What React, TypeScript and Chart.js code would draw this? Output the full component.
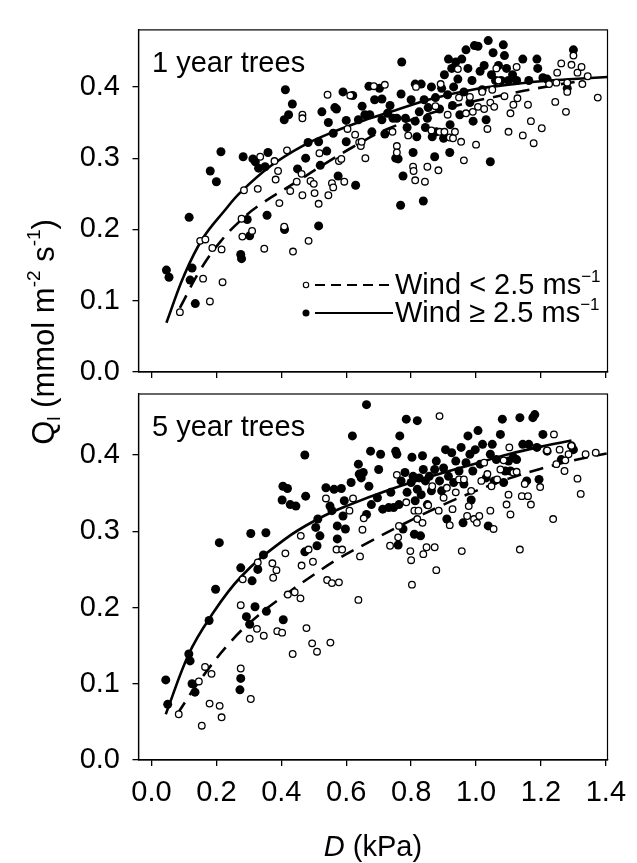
import React, { useEffect, useRef } from 'react';
import { Chart, registerables } from 'chart.js';

Chart.register(...registerables);

const FONT = '"Liberation Sans", Arial, Helvetica, sans-serif';

// ---------- axis ticks / labels ----------
const xTickValues = [0, 0.2, 0.4, 0.6, 0.8, 1.0, 1.2, 1.4];
const yTickValues = [0, 0.1, 0.2, 0.3, 0.4];
const panelTitles = ['1 year trees', '5 year trees'];
const seriesLabels = ['Wind < 2.5 ms', 'Wind \u2265 2.5 ms'];

// ---------- 1 year trees ----------
const yr1Calm: [number, number][] = [
  [0.0875, 0.084], [0.15, 0.184], [0.166, 0.186], [0.159, 0.131], [0.18, 0.099], [0.1875, 0.174],
  [0.216, 0.172], [0.219, 0.126], [0.2775, 0.215], [0.28, 0.19], [0.31, 0.198], [0.285, 0.255],
  [0.3275, 0.257], [0.335, 0.302], [0.3475, 0.173], [0.379, 0.296], [0.3825, 0.27], [0.39, 0.282],
  [0.394, 0.237], [0.409, 0.204], [0.4175, 0.311], [0.4275, 0.254], [0.436, 0.169], [0.4475, 0.267],
  [0.4625, 0.278], [0.465, 0.248], [0.465, 0.361], [0.465, 0.356], [0.484, 0.184], [0.49, 0.268],
  [0.5, 0.264], [0.5025, 0.251], [0.515, 0.236], [0.5175, 0.307], [0.5425, 0.389], [0.545, 0.248],
  [0.556, 0.265], [0.56, 0.259], [0.5775, 0.296], [0.585, 0.299], [0.594, 0.267], [0.604, 0.341],
  [0.6125, 0.388], [0.6275, 0.333], [0.64, 0.322], [0.645, 0.317], [0.6475, 0.323], [0.659, 0.3],
  [0.685, 0.401], [0.719, 0.403], [0.7425, 0.337], [0.756, 0.317], [0.756, 0.308], [0.791, 0.332],
  [0.806, 0.288], [0.8075, 0.282], [0.8125, 0.269], [0.815, 0.4], [0.8425, 0.267], [0.85, 0.288],
  [0.8625, 0.339], [0.875, 0.373], [0.884, 0.283], [0.8875, 0.337], [0.891, 0.404], [0.9025, 0.337],
  [0.9125, 0.361], [0.919, 0.329], [0.929, 0.328], [0.935, 0.337], [0.944, 0.425], [0.9475, 0.385],
  [0.954, 0.323], [0.9625, 0.297], [0.969, 0.363], [0.981, 0.386], [0.99, 0.365], [1.0, 0.319],
  [1.006, 0.372], [1.019, 0.393], [1.025, 0.369], [1.035, 0.341], [1.044, 0.378], [1.05, 0.396],
  [1.056, 0.372], [1.0625, 0.426], [1.069, 0.409], [1.0875, 0.387], [1.1, 0.337], [1.106, 0.363],
  [1.115, 0.375], [1.125, 0.428], [1.1275, 0.384], [1.144, 0.332], [1.16, 0.375], [1.169, 0.352],
  [1.1775, 0.321], [1.2025, 0.342], [1.225, 0.404], [1.244, 0.379], [1.25, 0.42], [1.2625, 0.433],
  [1.277, 0.365], [1.281, 0.393], [1.294, 0.431], [1.3, 0.444], [1.3125, 0.42], [1.325, 0.428],
  [1.3275, 0.404], [1.344, 0.415], [1.375, 0.385], [1.281, 0.406], [1.2475, 0.406],
];

const yr1Windy: [number, number][] = [
  [0.046, 0.143], [0.054, 0.133], [0.116, 0.217], [0.125, 0.146], [0.119, 0.129], [0.135, 0.096],
  [0.181, 0.282], [0.2, 0.267], [0.214, 0.309], [0.275, 0.165], [0.2775, 0.159], [0.2825, 0.302],
  [0.295, 0.214], [0.3025, 0.191], [0.3125, 0.299], [0.32, 0.295], [0.33, 0.286], [0.35, 0.288],
  [0.356, 0.22], [0.359, 0.308], [0.41, 0.2], [0.4125, 0.396], [0.4225, 0.361], [0.434, 0.376],
  [0.409, 0.354], [0.45, 0.285], [0.475, 0.3], [0.4825, 0.322], [0.515, 0.205], [0.515, 0.323],
  [0.52, 0.29], [0.525, 0.365], [0.54, 0.31], [0.545, 0.35], [0.56, 0.335], [0.565, 0.371],
  [0.57, 0.369], [0.575, 0.275], [0.59, 0.393], [0.6, 0.323], [0.6, 0.353], [0.62, 0.388],
  [0.629, 0.262], [0.6375, 0.354], [0.649, 0.373], [0.6575, 0.361], [0.67, 0.401], [0.6725, 0.361],
  [0.679, 0.337], [0.6875, 0.382], [0.7025, 0.398], [0.71, 0.383], [0.71, 0.354], [0.719, 0.334],
  [0.7275, 0.363], [0.735, 0.374], [0.744, 0.356], [0.7525, 0.3], [0.756, 0.356], [0.76, 0.299],
  [0.7675, 0.234], [0.769, 0.39], [0.771, 0.435], [0.775, 0.275], [0.7825, 0.356], [0.7875, 0.343],
  [0.8, 0.382], [0.806, 0.308], [0.8125, 0.404], [0.8125, 0.352], [0.8175, 0.33], [0.825, 0.365],
  [0.831, 0.404], [0.8375, 0.24], [0.84, 0.382], [0.844, 0.343], [0.85, 0.356], [0.8525, 0.371],
  [0.8625, 0.4], [0.865, 0.33], [0.8725, 0.302], [0.875, 0.385], [0.8775, 0.337], [0.8875, 0.369],
  [0.894, 0.398], [0.9, 0.328], [0.9025, 0.417], [0.9125, 0.389], [0.915, 0.439], [0.919, 0.308],
  [0.92, 0.347], [0.925, 0.426], [0.9275, 0.374], [0.931, 0.4], [0.9375, 0.435], [0.944, 0.411],
  [0.95, 0.361], [0.956, 0.439], [0.9625, 0.393], [0.969, 0.452], [0.975, 0.426], [0.981, 0.378],
  [0.9875, 0.409], [0.991, 0.352], [0.995, 0.458], [1.006, 0.457], [1.0125, 0.422], [1.019, 0.396],
  [1.025, 0.43], [1.031, 0.354], [1.0375, 0.465], [1.044, 0.295], [1.0475, 0.417], [1.0525, 0.448],
  [1.06, 0.409], [1.069, 0.43], [1.0775, 0.409], [1.084, 0.459], [1.0875, 0.444], [1.094, 0.426],
  [1.1, 0.409], [1.1125, 0.417], [1.125, 0.409], [1.144, 0.439], [1.1625, 0.409], [1.1875, 0.439],
  [1.19, 0.426], [1.206, 0.413], [1.219, 0.411], [1.281, 0.398], [1.3, 0.452],
];

const yr1CalmFit: [number, number][] = [
  [0.0875, 0.09], [0.15, 0.143], [0.2125, 0.183], [0.285, 0.217], [0.345, 0.238], [0.444, 0.266],
  [0.52, 0.288], [0.618, 0.315], [0.727, 0.341], [0.912, 0.37], [1.098, 0.39], [1.25, 0.403], [1.32, 0.408],
];

const yr1WindyFit: [number, number][] = [
  [0.046, 0.069], [0.1, 0.135], [0.156, 0.186], [0.228, 0.228], [0.274, 0.252], [0.367, 0.289],
  [0.469, 0.318], [0.561, 0.337], [0.654, 0.353], [0.75, 0.367], [0.87, 0.384], [1.0, 0.397],
  [1.1, 0.403], [1.2, 0.408], [1.3, 0.411], [1.405, 0.414],
];

// ---------- 5 year trees ----------
const yr5Calm: [number, number][] = [
  [0.084, 0.06], [0.146, 0.103], [0.155, 0.045], [0.165, 0.122], [0.179, 0.074], [0.185, 0.113],
  [0.21, 0.071], [0.216, 0.056], [0.275, 0.203], [0.275, 0.12], [0.281, 0.237], [0.3025, 0.159],
  [0.306, 0.08], [0.325, 0.172], [0.3275, 0.259], [0.346, 0.163], [0.3725, 0.258], [0.375, 0.239],
  [0.385, 0.249], [0.3875, 0.169], [0.4025, 0.167], [0.4125, 0.271], [0.42, 0.217], [0.435, 0.139],
  [0.4412, 0.22], [0.459, 0.212], [0.46, 0.294], [0.4625, 0.255], [0.4775, 0.173], [0.484, 0.276],
  [0.495, 0.153], [0.4975, 0.26], [0.51, 0.142], [0.5375, 0.343], [0.5412, 0.236], [0.5512, 0.154],
  [0.556, 0.232], [0.57, 0.276], [0.5775, 0.233], [0.5875, 0.276], [0.61, 0.327], [0.621, 0.343],
  [0.6375, 0.21], [0.6425, 0.267], [0.65, 0.302], [0.654, 0.317], [0.735, 0.281], [0.756, 0.374],
  [0.76, 0.292], [0.7625, 0.307], [0.785, 0.338], [0.7975, 0.274], [0.8, 0.262], [0.8025, 0.23],
  [0.81, 0.327], [0.819, 0.316], [0.8225, 0.327], [0.835, 0.311], [0.8375, 0.27], [0.8475, 0.279],
  [0.8525, 0.334], [0.865, 0.359], [0.8725, 0.279], [0.8775, 0.249], [0.885, 0.327], [0.8875, 0.451],
  [0.9, 0.344], [0.91, 0.357], [0.919, 0.308], [0.9275, 0.329], [0.9375, 0.351], [0.9475, 0.368],
  [0.956, 0.274], [0.9625, 0.368], [0.9725, 0.32], [0.9775, 0.333], [0.985, 0.353], [0.9938, 0.316],
  [1.0025, 0.311], [1.01, 0.32], [1.0162, 0.366], [1.025, 0.39], [1.035, 0.375], [1.044, 0.327],
  [1.0475, 0.359], [1.054, 0.303], [1.065, 0.368], [1.075, 0.381], [1.085, 0.393], [1.094, 0.335],
  [1.1, 0.348], [1.1025, 0.41], [1.106, 0.322], [1.115, 0.377], [1.125, 0.378], [1.135, 0.276],
  [1.141, 0.346], [1.15, 0.362], [1.16, 0.346], [1.169, 0.335], [1.1975, 0.358], [1.219, 0.406],
  [1.2375, 0.316], [1.24, 0.427], [1.2475, 0.388], [1.2575, 0.407], [1.2725, 0.379], [1.275, 0.393],
  [1.294, 0.412], [1.3125, 0.369], [1.3225, 0.349], [1.3375, 0.401], [1.3688, 0.403], [1.285, 0.401],
];

const yr5Windy: [number, number][] = [
  [0.044, 0.105], [0.05, 0.073], [0.115, 0.139], [0.119, 0.13], [0.125, 0.1], [0.134, 0.089],
  [0.1775, 0.183], [0.1975, 0.224], [0.209, 0.285], [0.275, 0.252], [0.275, 0.107], [0.2725, 0.092],
  [0.2925, 0.188], [0.3025, 0.178], [0.306, 0.297], [0.31, 0.235], [0.319, 0.201], [0.3275, 0.25],
  [0.345, 0.269], [0.3525, 0.298], [0.354, 0.195], [0.406, 0.184], [0.405, 0.359], [0.419, 0.356],
  [0.4025, 0.341], [0.4275, 0.335], [0.445, 0.333], [0.4725, 0.4], [0.475, 0.346], [0.4725, 0.273],
  [0.506, 0.305], [0.51, 0.281], [0.5125, 0.316], [0.519, 0.294], [0.5375, 0.357], [0.55, 0.333],
  [0.556, 0.327], [0.5625, 0.355], [0.5725, 0.29], [0.5725, 0.307], [0.585, 0.356], [0.59, 0.32],
  [0.5975, 0.303], [0.594, 0.34], [0.619, 0.425], [0.615, 0.364], [0.6375, 0.388], [0.64, 0.375],
  [0.6462, 0.37], [0.6525, 0.377], [0.6625, 0.466], [0.6625, 0.322], [0.67, 0.359], [0.675, 0.405],
  [0.6775, 0.335], [0.6962, 0.344], [0.7, 0.381], [0.706, 0.401], [0.7125, 0.329], [0.731, 0.331],
  [0.7375, 0.351], [0.746, 0.331], [0.7525, 0.405], [0.756, 0.401], [0.76, 0.282], [0.7625, 0.335],
  [0.765, 0.425], [0.769, 0.366], [0.775, 0.303], [0.781, 0.377], [0.785, 0.447], [0.7875, 0.351],
  [0.8, 0.364], [0.8025, 0.397], [0.806, 0.372], [0.81, 0.296], [0.8125, 0.34], [0.819, 0.445],
  [0.819, 0.355], [0.825, 0.37], [0.829, 0.294], [0.831, 0.348], [0.835, 0.399], [0.8375, 0.381],
  [0.844, 0.366], [0.85, 0.335], [0.856, 0.372], [0.8625, 0.353], [0.8725, 0.381], [0.8775, 0.392],
  [0.8875, 0.366], [0.894, 0.353], [0.9, 0.383], [0.906, 0.407], [0.91, 0.316], [0.915, 0.372],
  [0.925, 0.403], [0.931, 0.364], [0.9375, 0.392], [0.9475, 0.379], [0.954, 0.41], [0.96, 0.311],
  [0.9625, 0.362], [0.969, 0.39], [0.975, 0.425], [0.981, 0.401], [0.985, 0.341], [0.99, 0.379],
  [0.9975, 0.407], [1.006, 0.432], [1.0125, 0.388], [1.02, 0.414], [1.031, 0.37], [1.0375, 0.307],
  [1.044, 0.401], [1.05, 0.414], [1.056, 0.366], [1.0625, 0.394], [1.075, 0.427], [1.081, 0.447],
  [1.085, 0.364], [1.09, 0.379], [1.1, 0.392], [1.106, 0.379], [1.115, 0.397], [1.125, 0.394],
  [1.135, 0.449], [1.144, 0.414], [1.156, 0.366], [1.1625, 0.414], [1.175, 0.449], [1.181, 0.453],
  [1.1875, 0.41], [1.194, 0.368], [1.206, 0.427], [1.219, 0.405], [1.2625, 0.394], [1.294, 0.412],
  [1.3, 0.407],
];

const yr5CalmFit: [number, number][] = [
  [0.079, 0.06], [0.15, 0.105], [0.25, 0.158], [0.33, 0.19], [0.42, 0.219], [0.5, 0.243],
  [0.58, 0.265], [0.68, 0.288], [0.76, 0.306], [0.9, 0.335], [1.0, 0.353], [1.1, 0.369],
  [1.2, 0.382], [1.3, 0.393], [1.4025, 0.402],
];

const yr5WindyFit: [number, number][] = [
  [0.044, 0.06], [0.115, 0.139], [0.1775, 0.185], [0.275, 0.24], [0.4125, 0.29], [0.5125, 0.316],
  [0.6, 0.333], [0.7375, 0.355], [0.87, 0.373], [1.0, 0.389], [1.1, 0.401], [1.2, 0.411], [1.294, 0.419],
];

const panels = [
  { calm: yr1Calm, windy: yr1Windy, calmFit: yr1CalmFit, windyFit: yr1WindyFit },
  { calm: yr5Calm, windy: yr5Windy, calmFit: yr5CalmFit, windyFit: yr5WindyFit },
];

// ---------- drawing helpers ----------
type Run = { t: string; size: number; rise?: number; italic?: boolean };

function fontOf(r: Run) {
  return `${r.italic ? 'italic ' : ''}${r.size}px ${FONT}`;
}

function drawRuns(
  ctx: CanvasRenderingContext2D,
  runs: Run[],
  x: number,
  y: number,
  align: 'left' | 'center',
  rotate = 0,
) {
  ctx.save();
  ctx.translate(x, y);
  if (rotate) ctx.rotate(rotate);
  ctx.fillStyle = '#000';
  ctx.textBaseline = 'alphabetic';
  ctx.textAlign = 'left';
  const widths = runs.map((r) => {
    ctx.font = fontOf(r);
    return ctx.measureText(r.t).width;
  });
  const total = widths.reduce((a, b) => a + b, 0);
  let cx = align === 'center' ? -total / 2 : 0;
  runs.forEach((r, i) => {
    ctx.font = fontOf(r);
    ctx.fillText(r.t, cx, -(r.rise || 0));
    cx += widths[i];
  });
  ctx.restore();
}

const TXT = 29;

function makeConfig(panel: number): any {
  const isTop = panel === 0;
  const d = panels[panel];
  const toPts = (a: [number, number][]) => a.map(([x, y]) => ({ x, y }));

  const decor = {
    id: 'decor' + panel,
    afterDraw(chart: any) {
      const ctx: CanvasRenderingContext2D = chart.ctx;
      const a = chart.chartArea;
      ctx.save();
      ctx.strokeStyle = '#000';
      ctx.lineWidth = 1.2;
      ctx.strokeRect(a.left, a.top, a.right - a.left, a.bottom - a.top);
      ctx.restore();

      // panel label
      drawRuns(ctx, [{ t: panelTitles[panel], size: TXT }], a.left + 13.5, a.top + 42, 'left');

      if (isTop) {
        // legend
        const lx0 = 315, lx1 = 393, mx = 306, tx = 395;
        const rows = [285, 313];
        ctx.save();
        ctx.strokeStyle = '#000';
        ctx.fillStyle = '#fff';
        ctx.lineWidth = 1.1;
        ctx.beginPath();
        ctx.arc(mx, rows[0], 2.7, 0, Math.PI * 2);
        ctx.fill();
        ctx.stroke();
        ctx.lineWidth = 2;
        ctx.setLineDash([10, 6]);
        ctx.beginPath();
        ctx.moveTo(lx0, rows[0]);
        ctx.lineTo(lx1, rows[0]);
        ctx.stroke();
        ctx.setLineDash([]);
        ctx.fillStyle = '#000';
        ctx.beginPath();
        ctx.arc(mx, rows[1], 3.5, 0, Math.PI * 2);
        ctx.fill();
        ctx.beginPath();
        ctx.moveTo(lx0, rows[1]);
        ctx.lineTo(lx1, rows[1]);
        ctx.stroke();
        ctx.restore();
        drawRuns(ctx, [{ t: seriesLabels[0], size: TXT }, { t: '\u22121', size: 17, rise: 12 }], tx, rows[0] + 9, 'left');
        drawRuns(ctx, [{ t: seriesLabels[1], size: TXT }, { t: '\u22121', size: 17, rise: 12 }], tx, rows[1] + 9, 'left');

        // y axis title (spans both panels)
        drawRuns(
          ctx,
          [
            { t: 'Q', size: 31 },
            { t: 'l', size: 19, rise: -6 },
            { t: ' (mmol m', size: 31 },
            { t: '-2', size: 19, rise: 14 },
            { t: ' s', size: 31 },
            { t: '-1', size: 19, rise: 14 },
            { t: ')', size: 31 },
          ],
          54,
          332,
          'center',
          -Math.PI / 2,
        );
      } else {
        const cx = (a.left + a.right) / 2;
        drawRuns(
          ctx,
          [
            { t: 'D', size: TXT, italic: true },
            { t: ' (kPa)', size: TXT },
          ],
          cx,
          856,
          'center',
        );
      }
    },
  };

  const gridOpts = {
    display: true,
    drawOnChartArea: false,
    drawTicks: true,
    tickLength: 6,
    color: '#000',
    lineWidth: 1.3,
  };
  const borderOpts = { display: true, color: '#000', width: 1.3 };

  return {
    type: 'scatter',
    data: {
      datasets: [
        {
          label: seriesLabels[0],
          data: toPts(d.calm),
          pointRadius: 3.3,
          pointBorderWidth: 1.3,
          pointBackgroundColor: '#fff',
          pointBorderColor: '#000',
          order: 0,
        },
        {
          label: seriesLabels[1],
          data: toPts(d.windy),
          pointRadius: 4.5,
          pointBorderWidth: 0,
          pointBackgroundColor: '#000',
          pointBorderColor: '#000',
          order: 1,
        },
        {
          type: 'line',
          label: seriesLabels[0] + ' fit',
          data: toPts(d.calmFit),
          borderColor: '#000',
          borderWidth: 2.6,
          borderDash: [14, 9],
          pointRadius: 0,
          fill: false,
          tension: 0.4,
          order: 2,
        },
        {
          type: 'line',
          label: seriesLabels[1] + ' fit',
          data: toPts(d.windyFit),
          borderColor: '#000',
          borderWidth: 2.6,
          pointRadius: 0,
          fill: false,
          tension: 0.4,
          order: 3,
        },
      ],
    },
    options: {
      responsive: false,
      maintainAspectRatio: false,
      animation: false,
      events: [],
      layout: {
        padding: { left: 0, right: 29.5, top: isTop ? 6 : 394, bottom: isTop ? 473 : 0 },
      },
      plugins: {
        legend: { display: false },
        tooltip: { enabled: false },
        title: { display: false },
      },
      scales: {
        x: {
          type: 'linear',
          min: -0.04,
          max: 1.405,
          afterBuildTicks: (s: any) => {
            s.ticks = xTickValues.map((value) => ({ value }));
          },
          afterFit: (s: any) => {
            s.height = isTop ? 18 : 103;
          },
          ticks: {
            autoSkip: false,
            maxRotation: 0,
            padding: 10,
            color: '#000',
            font: { family: FONT, size: TXT },
            callback: (v: any) => (isTop ? '' : Number(v).toFixed(1)),
          },
          grid: gridOpts,
          border: borderOpts,
        },
        y: {
          type: 'linear',
          min: 0,
          max: 0.48,
          afterBuildTicks: (s: any) => {
            s.ticks = yTickValues.map((value) => ({ value }));
          },
          afterFit: (s: any) => {
            s.width = 138.5;
          },
          ticks: {
            autoSkip: false,
            padding: 12.5,
            color: '#000',
            font: { family: FONT, size: TXT },
            callback: (v: any) => Number(v).toFixed(1),
          },
          grid: gridOpts,
          border: borderOpts,
        },
      },
    },
    plugins: [decor],
  };
}

export default function App() {
  const c1 = useRef<HTMLCanvasElement>(null);
  const c2 = useRef<HTMLCanvasElement>(null);
  useEffect(() => {
    const ch1 = new Chart(c1.current as HTMLCanvasElement, makeConfig(0));
    const ch2 = new Chart(c2.current as HTMLCanvasElement, makeConfig(1));
    return () => {
      ch1.destroy();
      ch2.destroy();
    };
  }, []);
  const cs: React.CSSProperties = { position: 'absolute', left: 0, top: 0, width: 637, height: 863 };
  return (
    <div style={{ position: 'absolute', left: 0, top: 0, width: 637, height: 863, background: '#fff' }}>
      <canvas ref={c1} width={637} height={863} style={cs} />
      <canvas ref={c2} width={637} height={863} style={cs} />
    </div>
  );
}
